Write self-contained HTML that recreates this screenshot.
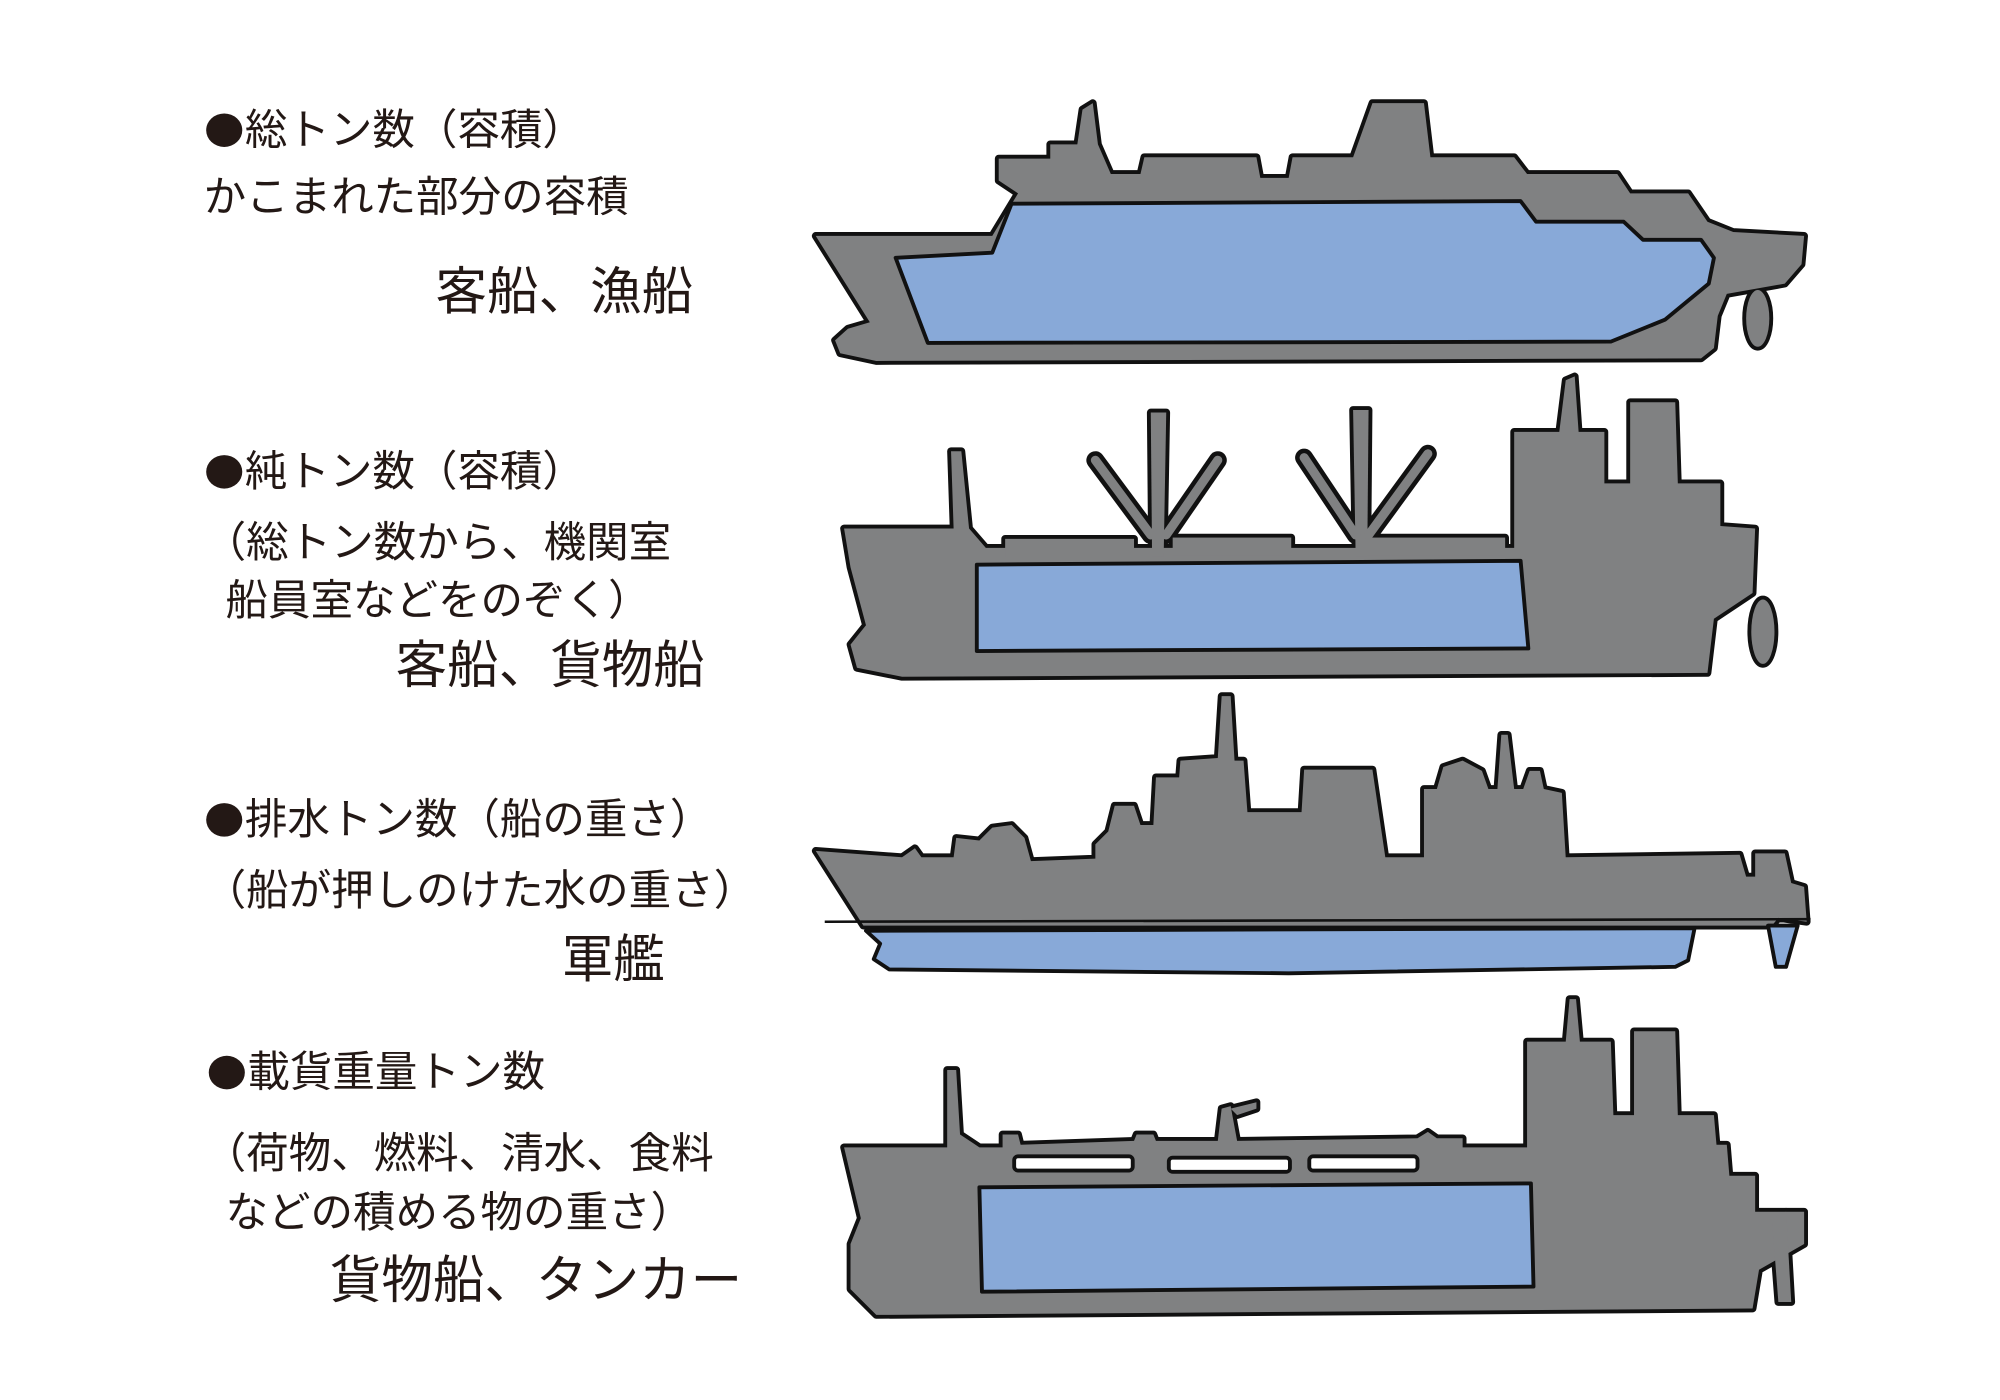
<!DOCTYPE html>
<html><head><meta charset="utf-8"><style>
html,body{margin:0;padding:0;background:#fff;width:2000px;height:1400px;overflow:hidden}
svg{display:block}
text{font-family:"Liberation Sans","Noto Sans CJK JP",sans-serif;fill:#231815}
</style></head><body>
<svg width="2000" height="1400" viewBox="0 0 1552 1086" preserveAspectRatio="none">
<defs>
<g id="s1">
<polygon points="633,183 770,183 790,150 775,140 775,123 815,123 815,112 836,112 840,85 848,80 852,112 862,135 885,135 888,122 975,122 978,138 1000,138 1003,122 1050,122 1065,80 1105,80 1110,122 1175,122 1185,135 1255,135 1265,150 1310,150 1325,172 1345,180 1400,183 1398,205 1385,220 1340,228 1333,245 1330,270 1320,278 680,280 652,274 648,264 658,255 675,250"/>
<ellipse cx="1364" cy="247" rx="9" ry="22"/>
</g>
<g id="s2">
<polygon points="655,410 740,410 738,350 746,350 752,410 765,425 1175,425 1175,335 1210,335 1215,295 1222,292 1225,335 1245,335 1245,375 1265,375 1265,312 1300,312 1302,375 1335,375 1335,408 1362,410 1360,460 1330,480 1325,522 700,525 665,518 660,500 672,485 660,440"/>
<rect x="780" y="418" width="100" height="14"/>
<rect x="910" y="417" width="92" height="14"/>
<rect x="1060" y="417" width="108" height="14"/>
<polygon points="893,320 905,320 903,432 894,432"/>
<polygon points="1050,318 1062,318 1061,432 1052,432"/>
<ellipse cx="1368" cy="490" rx="9" ry="25"/>
</g>
<g id="s3">
<polygon points="633,660 700,665 710,658 715,665 740,665 742,650 760,652 770,642 785,640 795,650 800,668 850,666 850,655 860,645 865,625 880,625 885,640 895,640 897,603 915,603 916,590 945,588 948,540 955,540 958,590 965,590 968,630 1010,630 1012,597 1065,597 1075,665 1105,665 1105,612 1115,612 1120,595 1135,590 1150,598 1155,612 1162,612 1165,570 1170,570 1175,612 1182,612 1187,598 1195,598 1198,612 1212,615 1215,665 1350,663 1355,680 1362,680 1362,662 1385,662 1390,685 1400,688 1402,715 1380,712 1375,718 670,718"/>
</g>
<g id="s4">
<polygon points="655,890 735,890 735,830 742,830 745,880 760,890 778,890 778,880 790,880 792,888 880,885 882,880 895,880 897,885 945,885 948,860 955,858 960,885 1100,883 1108,878 1115,883 1135,883 1135,890 1185,890 1185,808 1215,808 1218,775 1223,775 1226,808 1250,808 1252,865 1268,865 1268,800 1300,800 1302,865 1330,865 1332,888 1340,888 1342,912 1362,912 1362,940 1400,940 1400,965 1365,985 1360,1015 680,1020 660,1000 660,965 668,945"/>
<polygon points="955,860 975,855 975,860 960,865"/>
<polygon points="1375,945 1386,940 1390,1010 1380,1010"/>
</g>
</defs>
<g fill="#808182" stroke="#111" stroke-width="6" stroke-linejoin="round">
<use href="#s1"/><use href="#s2"/><use href="#s3"/><use href="#s4"/>
</g>
<g stroke="#111" stroke-width="14" stroke-linecap="round">
<line x1="850" y1="357" x2="893" y2="415"/><line x1="945" y1="357" x2="905" y2="415"/>
<line x1="1012" y1="355" x2="1052" y2="415"/><line x1="1108" y1="352" x2="1062" y2="415"/>
</g>
<g fill="#808182" stroke="none">
<use href="#s1"/><use href="#s2"/><use href="#s3"/><use href="#s4"/>
</g>
<g stroke="#808182" stroke-width="7" stroke-linecap="round">
<line x1="850" y1="357" x2="893" y2="415"/><line x1="945" y1="357" x2="905" y2="415"/>
<line x1="1012" y1="355" x2="1052" y2="415"/><line x1="1108" y1="352" x2="1062" y2="415"/>
</g>
<g fill="#88a9d8" stroke="#111" stroke-width="3" stroke-linejoin="round">
<polygon points="695,200 770,196 785,158 1180,156 1192,172 1260,172 1275,186 1320,186 1330,200 1326,220 1292,248 1250,265 720,266"/>
<polygon points="758,438 1180,435 1186,503 758,505"/>
<polygon points="672,722 1315,720 1310,745 1300,750 1000,755 690,752 678,744 683,732"/>
<polygon points="1372,718 1395,718 1386,750 1378,750"/>
<polygon points="760,921 1188,918 1190,998 762,1002"/>
</g>
<g fill="#fff" stroke="#111" stroke-width="3">
<rect x="787" y="897" width="92" height="11" rx="3"/>
<rect x="907" y="898" width="94" height="11" rx="3"/>
<rect x="1016" y="897" width="84" height="11" rx="3"/>
</g>
<line x1="640" y1="715" x2="1405" y2="713" stroke="#111" stroke-width="2"/>
<g fill="#231815">
<ellipse cx="174" cy="101" rx="14" ry="13"/>
<ellipse cx="174" cy="366" rx="14" ry="13"/>
<ellipse cx="174" cy="636" rx="14" ry="13"/>
<ellipse cx="176" cy="832" rx="14" ry="13"/>
</g>
<g font-size="33">
<text x="190" y="112">総トン数（容積）</text>
<text x="158" y="164">かこまれた部分の容積</text>
<text x="190" y="377">純トン数（容積）</text>
<text x="158" y="432">（総トン数から、機関室</text>
<text x="175" y="477">船員室などをのぞく）</text>
<text x="190" y="647">排水トン数（船の重さ）</text>
<text x="158" y="702">（船が押しのけた水の重さ）</text>
<text x="192" y="843">載貨重量トン数</text>
<text x="158" y="906">（荷物、燃料、清水、食料</text>
<text x="175" y="952">などの積める物の重さ）</text>
</g>
<g font-size="40">
<text x="338" y="240">客船、漁船</text>
<text x="307" y="530">客船、貨物船</text>
<text x="436" y="758">軍艦</text>
<text x="256" y="1007">貨物船、タンカー</text>
</g>
</svg>
</body></html>
